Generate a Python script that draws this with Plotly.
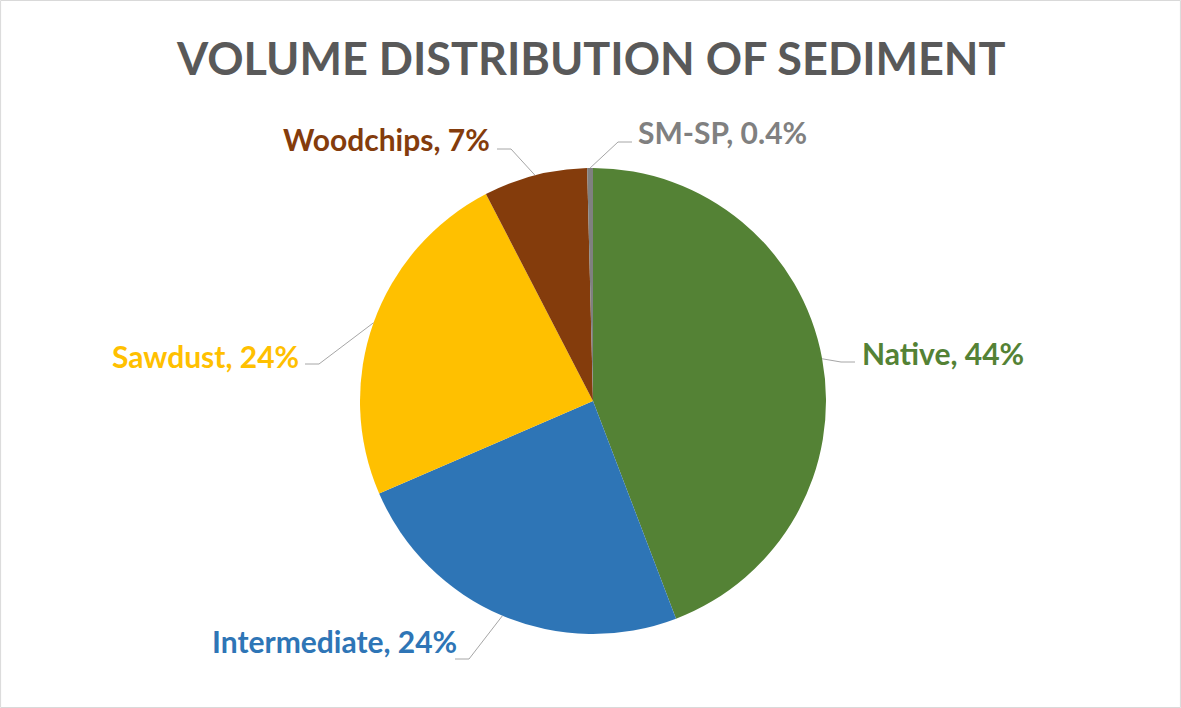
import math
import plotly.graph_objects as go

# ---- data ----
categories = ["Native", "Intermediate", "Sawdust", "Woodchips", "SM-SP"]
values = [44.2, 24.3, 23.9, 7.2, 0.4]
percent_text = ["44%", "24%", "24%", "7%", "0.4%"]
colors = ["#548235", "#2E75B6", "#FFC000", "#843C0C", "#808080"]
title_text = "VOLUME DISTRIBUTION OF SEDIMENT"

# ---- layout constants (pixels) ----
W, H = 1181, 708
CX, CY, R = 593, 401, 233
label_layout = {
    "Native":       dict(x=860, y=353, side="left",  lx=855, ly=362),
    "Intermediate": dict(x=459, y=641, side="right", lx=455, ly=659),
    "Sawdust":      dict(x=301, y=356, side="right", lx=305, ly=364),
    "Woodchips":    dict(x=492, y=139, side="right", lx=497, ly=149),
    "SM-SP":        dict(x=636, y=132, side="left",  lx=632, ly=142),
}
ELBOW = 14
FONT = "Lato"


def px(x):
    return x / W


def py(y):
    return 1 - y / H


fig = go.Figure(
    go.Pie(
        labels=categories,
        values=values,
        sort=False,
        direction="clockwise",
        rotation=0,
        marker=dict(colors=colors, line=dict(width=0)),
        textinfo="none",
        hoverinfo="label+percent",
        showlegend=False,
        domain=dict(x=[px(CX - R), px(CX + R)], y=[py(CY + R), py(CY - R)]),
    )
)

total = sum(values)
cum = 0.0
annotations = []
shapes = []
for cat, v, pt, col in zip(categories, values, percent_text, colors):
    theta = 2 * math.pi * (cum + v / 2) / total
    cum += v
    sx = CX + R * math.sin(theta)
    sy = CY - R * math.cos(theta)
    L = label_layout[cat]
    ex, ey = L["lx"], L["ly"]
    bx = ex + ELBOW if L["side"] == "right" else ex - ELBOW
    path = f"M {px(sx)} {py(sy)} L {px(bx)} {py(ey)} L {px(ex)} {py(ey)}"
    shapes.append(dict(type="path", xref="paper", yref="paper", path=path,
                       line=dict(color="#A6A6A6", width=1)))
    annotations.append(dict(
        x=px(L["x"]), y=py(L["y"]), xref="paper", yref="paper",
        xanchor="left" if L["side"] == "left" else "right", yanchor="middle",
        text=f"<b>{cat}, {pt}</b>", showarrow=False,
        font=dict(family=FONT, size=30, color=col),
    ))

annotations.append(dict(
    x=px(591), y=py(58), xref="paper", yref="paper",
    xanchor="center", yanchor="middle",
    text=f"<b>{title_text}</b>", showarrow=False,
    font=dict(family=FONT, size=45, color="#595959"),
))

shapes.append(dict(type="rect", xref="paper", yref="paper", x0=0.0005, y0=0.0007,
                   x1=0.9995, y1=0.9993, line=dict(color="#D9D9D9", width=1)))

fig.update_layout(
    width=W, height=H,
    margin=dict(l=0, r=0, t=0, b=0),
    paper_bgcolor="white", plot_bgcolor="white",
    annotations=annotations, shapes=shapes,
)

fig.write_html(
    "out.html",
    config={"displayModeBar": False},
    post_script="document.body.style.margin='0';document.body.style.overflow='hidden';",
)
